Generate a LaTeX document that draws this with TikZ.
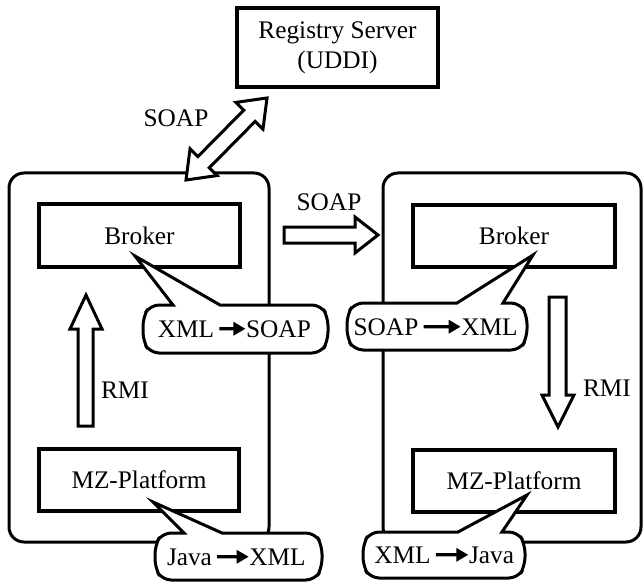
\documentclass[tikz,border=0pt]{standalone}
\usepackage{fontspec}
\setmainfont{Liberation Serif}
\usetikzlibrary{arrows.meta}
\newcommand{\mycallout}[8]{%
  \draw[bubble] (#7,#8) -- (#6,#2) [rounded corners=9pt] -- ({#3-7},#2) -- (#3,{#2+12}) -- (#3,{#4-12}) -- ({#3-7},#4) -- ({#1+7},#4) -- (#1,{#4-12}) -- (#1,{#2+12}) -- ({#1+7},#2) [sharp corners] -- (#5,#2) -- cycle;}
\begin{document}
\begin{tikzpicture}[x=1pt,y=-1pt,
  txt/.style={font=\fontsize{25.3}{30}\selectfont, inner sep=0pt},
  box/.style={draw, line width=3.3pt, inner sep=0pt, align=center, font=\fontsize{25.3}{30}\selectfont},
  cont/.style={draw, line width=3pt, rounded corners=15pt},
  blockarrow/.style={draw, fill=white, line width=3pt, line join=miter},
  bubble/.style={draw, fill=white, line width=3pt},
  conv/.style={-{Triangle[length=12pt,width=13pt]}, line width=3.2pt, shorten <=5pt, shorten >=0.5pt}
]
\useasboundingbox (0,0) rectangle (643,583);

% containers
\draw[cont] (9,173) rectangle (269,542);
\draw[cont] (383,173) rectangle (641,542);

% boxes
\node[box, minimum width=201pt, minimum height=79pt] (reg) at (337.5,47.5) {Registry Server\\(UDDI)};
\node[box, minimum width=201pt, minimum height=63pt] (brokerL) at (139.5,235.5) {Broker};
\node[box, minimum width=202pt, minimum height=62pt] (brokerR) at (514,236) {Broker};
\node[box, minimum width=200pt, minimum height=62pt] (mzL) at (139,480) {MZ-Platform};
\node[box, minimum width=202pt, minimum height=62pt] (mzR) at (514,481) {MZ-Platform};

% block arrows
\begin{scope}[shift={(186,180)}, rotate=45.35]
  \draw[blockarrow] (0,0) -- (25,19) -- (25,8) -- (90.3,8) -- (90.3,19) -- (115.3,0) -- (90.3,-19) -- (90.3,-8) -- (25,-8) -- (25,-19) -- cycle;
\end{scope}
\draw[blockarrow] (284,227) -- (355,227) -- (355,217) -- (378,235) -- (355,253) -- (355,243) -- (284,243) -- cycle;
\draw[blockarrow] (78,426) -- (78,329) -- (70,329) -- (86,295) -- (102,329) -- (93,329) -- (93,426) -- cycle;
\draw[blockarrow] (549,297) -- (566,297) -- (566,395) -- (574,395) -- (558,427) -- (542,395) -- (549,395) -- cycle;

% labels
\node[txt] (soap1) at (176,118) {SOAP};
\node[txt] (soap2) at (329,202) {SOAP};
\node[txt] (rmiL) at (125,390) {RMI};
\node[txt] (rmiR) at (607,388) {RMI};

% callouts
\mycallout{143}{305}{328}{353}{173}{220}{135}{256}
\mycallout{347}{303}{527}{350}{457}{503}{533}{255}
\mycallout{155}{533}{322}{580}{184}{222}{153}{502}
\mycallout{363}{532}{525}{578}{458}{502}{527}{495}

% callout texts
\node[txt, anchor=base] (c1a) at (186,337) {XML};
\node[txt, anchor=base] (c1b) at (278.5,337) {SOAP};
\draw[conv] (c1a.east) -- (c1b.west);
\node[txt, anchor=base] (c2a) at (386,335) {SOAP};
\node[txt, anchor=base] (c2b) at (489.5,335) {XML};
\draw[conv] (c2a.east) -- (c2b.west);
\node[txt, anchor=base] (c3a) at (189.5,565) {Java};
\node[txt, anchor=base] (c3b) at (277.5,565) {XML};
\draw[conv] (c3a.east) -- (c3b.west);
\node[txt, anchor=base] (c4a) at (402.5,563) {XML};
\node[txt, anchor=base] (c4b) at (491.5,563) {Java};
\draw[conv] (c4a.east) -- (c4b.west);
\end{tikzpicture}
\end{document}
